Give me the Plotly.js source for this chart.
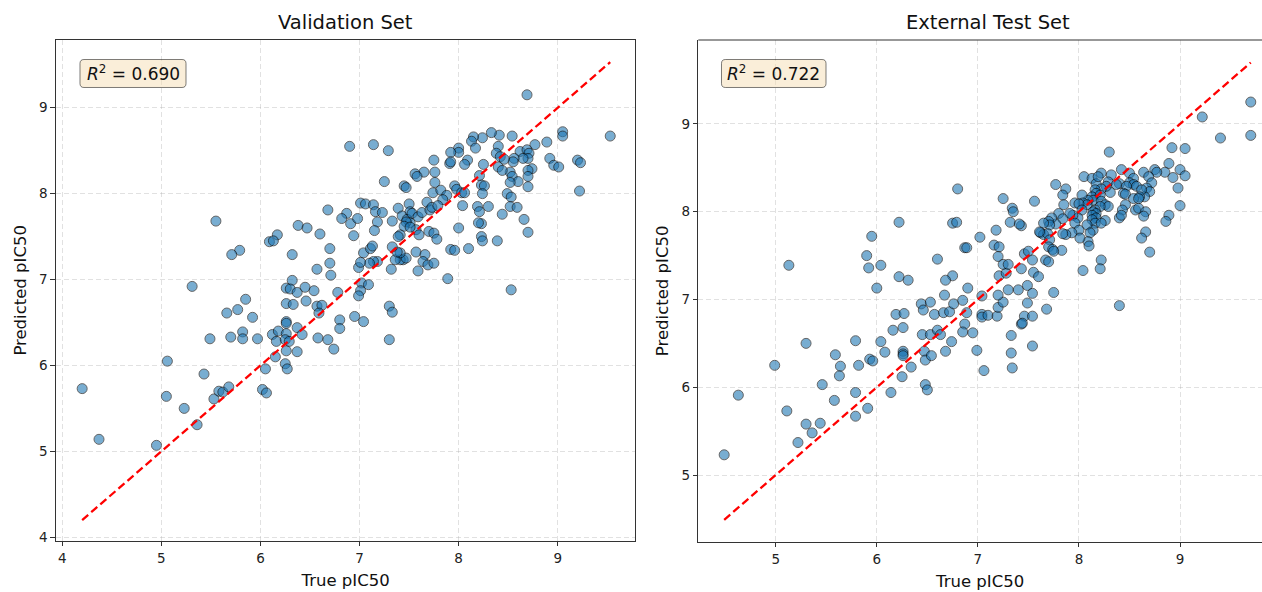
<!DOCTYPE html>
<html>
<head>
<meta charset="utf-8">
<script src="https://cdn.plot.ly/plotly-3.0.1.min.js"></script>
<style>html,body{margin:0;padding:0;background:#fff;}#chart{width:1262px;height:592px;}</style>
</head>
<body>
<div id="chart"></div>
<script>
// ---------------- DATA ----------------
const valTrue = [5.55,6.38,6.47,6.17,6.09,6.13,6.60,5.79,5.71,6.32,6.57,6.68,
6.71,6.32,5.31,6.26,6.30,6.37,6.45,6.54,6.78,6.26,6.33,6.46,6.57,6.62,6.59,5.85,5.77,5.66,5.92,6.80,6.80,6.26,6.26,6.37,6.12,6.18,6.26,6.42,5.82,5.82,5.70,5.49,5.97,6.16,6.25,6.29,6.58,6.68,6.74,6.26,6.37,6.15,6.25,6.27,6.05,6.02,6.06,5.06,5.43,5.05,4.20,4.37,4.95,5.23,5.36,5.53,5.58,5.62,5.68,
8.69,9.53,9.05,9.05,8.89,8.77,8.54,8.41,8.33,8.24,8.15,8.13,8.17,8.40,8.38,8.62,8.69,8.71,8.70,8.65,8.56,8.55,8.42,8.46,8.92,8.96,9.01,9.20,9.23,9.22,8.74,8.70,8.70,8.70,8.52,8.54,8.60,8.52,8.40,8.44,8.25,8.09,8.06,8.00,8.00,7.92,7.91,7.92,7.75,7.76,7.65,7.56,7.58,8.21,7.76,7.74,7.82,7.88,7.84,7.96,7.98,8.03,8.06,8.23,8.26,8.24,8.49,8.53,8.44,8.52,8.59,8.66,8.70,8.04,8.19,8.21,8.23,8.20,8.30,8.00,8.23,8.24,8.39,8.10,7.92,7.96,7.89,8.53,
6.90,7.14,7.29,7.25,7.45,7.47,7.01,7.06,7.14,7.16,7.23,6.87,6.82,6.91,6.98,6.94,7.18,7.15,7.33,7.39,7.43,7.50,7.51,7.48,7.53,7.59,7.63,7.68,7.71,7.73,7.79,7.51,7.57,7.60,7.47,7.45,7.41,7.39,7.70,7.75,7.78,7.51,7.57,7.66,7.64,7.69,7.75,7.44,7.41,7.47,7.36,7.41,7.38,7.32,7.59,7.33,7.04,7.11,7.13,7.18,7.14,7.10,6.99,7.01,6.70,6.70,7.02,7.09,7.01,6.99,7.30,7.33,7.30,6.95,7.04];
const valPred = [7.68,7.63,7.60,7.52,7.44,7.45,7.53,7.34,7.29,7.29,7.12,7.81,
7.05,6.99,6.92,6.90,6.89,6.85,6.91,6.87,6.85,6.72,6.71,6.75,6.69,6.70,6.61,6.77,6.65,6.61,6.56,6.53,6.43,6.51,6.49,6.44,6.36,6.40,6.37,6.36,6.39,6.31,6.33,6.31,6.31,6.28,6.30,6.28,6.32,6.30,6.19,6.17,6.16,6.10,6.02,5.96,5.96,5.72,5.68,6.05,5.90,5.64,5.73,5.14,5.07,5.50,5.31,5.61,5.70,5.69,5.75,
9.15,8.67,8.72,8.67,8.60,8.57,8.67,8.68,8.71,8.65,8.66,8.61,8.53,8.55,8.47,8.49,8.51,8.47,8.41,8.41,8.41,8.37,8.43,8.40,8.41,8.33,8.31,8.39,8.36,8.03,8.29,8.27,8.20,8.08,8.25,8.20,8.14,8.13,8.31,8.27,8.34,8.39,8.34,8.53,8.48,8.48,8.35,8.37,8.39,8.25,8.25,8.23,8.20,8.21,8.13,8.01,8.04,7.98,7.93,8.09,8.05,8.01,8.01,8.10,8.09,8.00,8.00,7.96,7.76,7.85,7.84,7.70,7.55,7.86,7.85,7.79,7.65,7.66,7.85,7.60,7.50,7.45,7.45,7.36,7.35,7.34,7.01,6.88,
8.55,8.57,8.50,8.14,8.09,8.07,7.89,7.88,7.87,7.79,7.78,7.77,7.71,7.65,7.71,7.51,7.67,7.57,7.68,7.83,7.74,7.88,7.79,7.70,7.77,7.73,7.78,7.90,7.81,7.84,7.86,7.66,7.58,7.52,7.67,7.62,7.52,7.50,7.56,7.54,7.47,7.61,7.32,7.29,7.21,7.17,7.19,7.23,7.23,7.25,7.23,7.31,7.32,7.12,7.10,7.38,7.31,7.36,7.39,7.21,7.21,7.19,7.14,7.20,7.36,7.19,6.96,6.94,6.87,6.81,6.69,6.62,6.30,6.57,6.51];

const extTrue = [6.80,6.22,6.75,6.79,5.95,7.02,6.87,6.89,5.90,6.60,5.13,5.92,6.04,6.22,6.31,6.75,6.68,6.00,6.90,
6.44,6.53,6.46,6.57,6.66,6.72,6.76,6.85,6.67,6.89,6.87,6.85,6.95,6.19,6.27,6.16,6.26,6.45,6.53,6.60,6.63,6.74,6.68,6.99,6.47,6.48,6.54,6.26,6.26,6.26,6.34,6.25,6.48,6.50,6.04,6.08,5.79,5.59,5.64,5.63,5.82,5.93,5.96,5.30,4.99,5.46,5.79,6.14,5.58,5.91,5.79,4.63,5.11,5.30,5.44,5.36,5.22,4.49,
7.04,7.04,7.04,7.10,7.19,7.20,7.25,7.20,7.30,7.40,7.21,7.28,7.43,7.55,7.60,7.49,7.54,7.49,7.46,7.54,7.43,7.44,7.75,7.68,7.33,7.54,7.33,7.34,7.06,8.40,
9.70,9.22,9.40,9.70,8.92,9.05,8.30,8.89,9.00,8.85,8.75,8.77,9.05,8.93,8.98,9.00,8.89,8.86,8.64,8.69,8.72,8.67,8.70,8.65,8.42,8.50,8.54,8.50,8.54,8.57,8.62,8.60,8.40,8.47,8.44,8.46,8.54,8.59,8.56,8.59,8.66,8.64,8.66,8.62,8.70,8.46,8.43,8.40,8.42,8.05,8.13,8.17,8.22,8.19,8.32,8.29,8.37,8.31,8.27,8.22,8.16,8.17,8.13,8.21,8.14,8.09,8.03,8.04,8.08,8.22,8.26,8.29,8.21,8.16,8.14,8.17,8.13,8.17,8.13,8.16,8.14,8.08,8.11,8.09,8.10,8.26,8.22,8.22,8.21,8.04,7.96,8.00,8.03,7.99,7.94,7.91,7.96,8.00,8.01,7.93,7.87,7.84,7.77,7.87,7.84,7.85,7.80,7.84,7.77,7.73,7.70,7.71,7.65,7.62,7.65,7.69,7.61,7.71,7.70,7.74,7.83,7.75,7.56,7.34,7.35,7.25,7.32,7.43,7.41,7.18,7.16,7.21,7.20,7.25,7.30,7.46,7.50,7.54,7.67,7.70];
const extPred = [8.26,7.88,7.87,7.88,7.72,7.71,7.59,7.59,7.50,7.46,7.39,7.36,7.39,7.26,7.22,7.27,7.22,7.13,7.13,
6.95,6.97,6.88,6.83,6.85,6.86,6.95,6.99,7.05,6.85,6.72,6.63,6.62,6.83,6.84,6.65,6.68,6.60,6.60,6.65,6.60,6.52,6.41,6.42,6.41,6.31,6.36,6.41,6.38,6.36,6.23,6.12,6.03,5.97,6.52,6.40,6.53,6.37,6.24,6.13,6.25,6.32,6.30,6.50,6.25,6.03,5.94,5.94,5.85,5.76,5.67,5.91,5.73,5.58,5.59,5.48,5.37,5.23,
7.04,6.83,6.80,6.82,6.81,6.91,6.97,7.05,7.11,7.11,7.27,7.30,7.35,7.31,7.26,7.16,7.07,6.96,6.81,6.81,6.72,6.73,7.08,6.89,6.59,6.47,6.39,6.22,6.19,6.93,
9.25,9.08,8.84,8.87,8.73,8.72,8.68,8.55,8.48,8.45,8.48,8.45,8.41,8.39,8.27,8.07,7.96,7.89,8.45,8.40,8.33,8.27,8.23,8.17,8.48,8.44,8.38,8.33,8.31,8.29,8.25,8.17,8.32,8.29,8.21,8.20,8.15,8.15,8.02,8.04,8.00,7.95,7.77,7.70,7.54,8.08,8.02,7.93,7.96,8.40,8.38,8.32,8.44,8.40,8.42,8.34,8.31,8.22,8.29,8.26,8.25,8.21,8.17,8.19,8.13,8.13,8.19,8.10,8.08,8.12,8.08,8.06,8.06,8.02,8.00,7.98,7.96,7.93,7.91,7.87,7.79,7.85,7.76,7.66,7.61,7.90,7.87,7.45,7.35,7.33,8.10,8.09,8.02,7.93,7.96,7.98,7.87,7.79,7.70,7.76,7.74,7.75,8.31,8.26,8.19,8.08,7.98,7.92,7.86,7.93,7.89,7.85,7.87,7.76,7.74,7.75,7.77,7.68,7.60,7.57,7.56,7.55,8.12,8.04,8.00,8.15,7.88,7.84,7.86,7.79,7.62,7.60,7.49,7.40,7.40,7.52,7.55,7.45,7.45,7.43];

const panelTitles = ["Validation Set", "External Test Set"];
const r2Labels = ["0.690", "0.722"];
const xLabel = "True pIC50";
const yLabel = "Predicted pIC50";
const xTicksLeft = [4,5,6,7,8,9];
const yTicksLeft = [4,5,6,7,8,9];
const xTicksRight = [5,6,7,8,9];
const yTicksRight = [5,6,7,8,9];

// ---------------- LAYOUT HELPERS ----------------
const W = 1262, H = 592;
const px = x => x / W;
const py = y => 1 - y / H;

function diag(a, b) {
  const all = a.concat(b);
  const lo = Math.min(...all), hi = Math.max(...all);
  return [lo, hi];
}
const dL = diag(valTrue, valPred);
const dR = diag(extTrue, extPred);

const markerStyle = {size: 10, color: '#1f77b4', opacity: 0.6, line: {color: '#000', width: 1}};

const traces = [
  {type: 'scatter', mode: 'markers', x: valTrue, y: valPred, xaxis: 'x', yaxis: 'y', marker: markerStyle, hoverinfo: 'x+y'},
  {type: 'scatter', mode: 'lines', x: dL, y: dL, xaxis: 'x', yaxis: 'y', line: {color: 'red', width: 2.3, dash: '8px,4px'}, hoverinfo: 'skip'},
  {type: 'scatter', mode: 'markers', x: extTrue, y: extPred, xaxis: 'x2', yaxis: 'y2', marker: markerStyle, hoverinfo: 'x+y'},
  {type: 'scatter', mode: 'lines', x: dR, y: dR, xaxis: 'x2', yaxis: 'y2', line: {color: 'red', width: 2.3, dash: '8px,4px'}, hoverinfo: 'skip'}
];

const tickFont = {family: 'DejaVu Sans, sans-serif', size: 13.5, color: '#222'};
const labFont = {family: 'DejaVu Sans, sans-serif', size: 16.5, color: '#111'};

function axisBase(extra) {
  return Object.assign({
    showgrid: true, gridcolor: 'rgba(170,170,170,0.35)', gridwidth: 1, griddash: '5px,3px',
    zeroline: false, showline: true, linecolor: '#333', linewidth: 1.1,
    ticks: 'outside', ticklen: 4.5, tickwidth: 1, tickcolor: '#333',
    tickfont: tickFont, automargin: false, tickmode: 'array', fixedrange: true
  }, extra);
}

function roundedBox(x0, y0, x1, y1, r) {
  const X = v => px(v).toFixed(5), Y = v => py(v).toFixed(5);
  return `M ${X(x0 + r)},${Y(y0)} L ${X(x1 - r)},${Y(y0)} Q ${X(x1)},${Y(y0)} ${X(x1)},${Y(y0 + r)} ` +
         `L ${X(x1)},${Y(y1 - r)} Q ${X(x1)},${Y(y1)} ${X(x1 - r)},${Y(y1)} L ${X(x0 + r)},${Y(y1)} ` +
         `Q ${X(x0)},${Y(y1)} ${X(x0)},${Y(y1 - r)} L ${X(x0)},${Y(y0 + r)} Q ${X(x0)},${Y(y0)} ${X(x0 + r)},${Y(y0)} Z`;
}

const layout = {
  width: W, height: H,
  margin: {l: 0, r: 0, t: 0, b: 0},
  paper_bgcolor: '#fff', plot_bgcolor: '#fff',
  showlegend: false,
  font: {family: 'DejaVu Sans, sans-serif'},
  xaxis: axisBase({domain: [px(56), px(635.3)], range: [3.936, 9.783], tickvals: xTicksLeft, mirror: true, anchor: 'y',
    title: {text: xLabel, font: labFont, standoff: 9}}),
  yaxis: axisBase({domain: [py(540.7), py(40)], range: [3.960, 9.788], tickvals: yTicksLeft, mirror: true, anchor: 'x',
    title: {text: yLabel, font: labFont, standoff: 8}}),
  xaxis2: axisBase({domain: [px(698.3), 1], range: [4.234, 9.811], tickvals: xTicksRight, anchor: 'y2',
    title: {text: xLabel, font: labFont, standoff: 9}}),
  yaxis2: axisBase({domain: [py(541.7), py(40)], range: [4.240, 9.957], tickvals: yTicksRight, anchor: 'x2',
    title: {text: yLabel, font: labFont, standoff: 8}}),
  shapes: [
    {type: 'line', xref: 'paper', yref: 'paper', x0: px(698.3), x1: 1, y0: py(40), y1: py(40), line: {color: '#333', width: 1.1}},
    {type: 'path', xref: 'paper', yref: 'paper', path: roundedBox(80, 59.5, 186, 87.5, 4),
      fillcolor: 'rgba(245,222,179,0.5)', line: {color: 'rgba(0,0,0,0.5)', width: 1}},
    {type: 'path', xref: 'paper', yref: 'paper', path: roundedBox(721.5, 59.5, 826, 87.5, 4),
      fillcolor: 'rgba(245,222,179,0.5)', line: {color: 'rgba(0,0,0,0.5)', width: 1}}
  ],
  annotations: [
    {xref: 'paper', yref: 'paper', x: px(345.6), y: py(22), text: panelTitles[0], showarrow: false,
      xanchor: 'center', yanchor: 'middle', font: {family: 'DejaVu Sans, sans-serif', size: 19.5, color: '#111'}},
    {xref: 'paper', yref: 'paper', x: px(988), y: py(22), text: panelTitles[1], showarrow: false,
      xanchor: 'center', yanchor: 'middle', font: {family: 'DejaVu Sans, sans-serif', size: 19.5, color: '#111'}},
    {xref: 'paper', yref: 'paper', x: px(133), y: py(73.5), text: '<i>R</i><sup>2</sup> = ' + r2Labels[0], showarrow: false,
      xanchor: 'center', yanchor: 'middle', font: {family: 'DejaVu Sans, sans-serif', size: 17, color: '#111'}},
    {xref: 'paper', yref: 'paper', x: px(773.8), y: py(73.5), text: '<i>R</i><sup>2</sup> = ' + r2Labels[1], showarrow: false,
      xanchor: 'center', yanchor: 'middle', font: {family: 'DejaVu Sans, sans-serif', size: 17, color: '#111'}}
  ]
};

Plotly.newPlot('chart', traces, layout, {displayModeBar: false, responsive: false, staticPlot: true});
</script>
</body>
</html>
